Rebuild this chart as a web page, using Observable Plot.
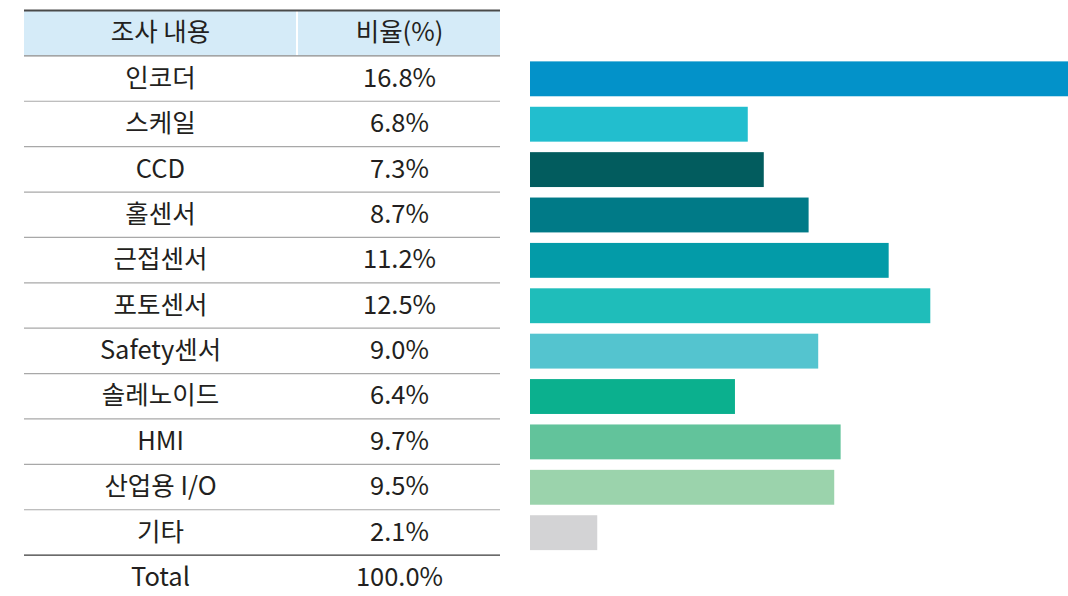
<!DOCTYPE html>
<html>
<head>
<meta charset="utf-8">
<script src="https://cdn.jsdelivr.net/npm/d3@7"></script>
<script src="https://cdn.jsdelivr.net/npm/@observablehq/plot@0.6"></script>
<style>
  html, body { margin: 0; padding: 0; background: #ffffff; }
  #chart { width: 1068px; height: 596px; }
</style>
</head>
<body>
<div id="chart"></div>
<script>
const headers = ["조사 내용", "비율(%)"];
const categories = ["인코더", "스케일", "CCD", "홀센서", "근접센서", "포토센서", "Safety센서", "솔레노이드", "HMI", "산업용 I/O", "기타"];
const shares = [16.8, 6.8, 7.3, 8.7, 11.2, 12.5, 9.0, 6.4, 9.7, 9.5, 2.1];
const shareLabels = ["16.8%", "6.8%", "7.3%", "8.7%", "11.2%", "12.5%", "9.0%", "6.4%", "9.7%", "9.5%", "2.1%"];
const totalLabel = "Total";
const totalValue = "100.0%";
const barColors = ["#0392c9", "#22bece", "#025c5e", "#007a87", "#039ba8", "#1fbdba", "#54c4cf", "#0bb08e", "#62c39b", "#9bd3ac", "#d3d3d5"];

const HEADER = "__header";
const rows = [HEADER, ...categories, totalLabel];
const W = 1068, H = 596;
const rowTop = 10, rowBottom = 600;
const rowH = (rowBottom - rowTop) / rows.length;
const tableLeft = 24, tableRight = 500, colSplit = 297;
const col1 = 160, col2 = 399;

const data = categories.map((c, i) => ({category: c, share: shares[i], label: shareLabels[i], color: barColors[i]}));
const font = "'Noto Sans CJK KR', 'Noto Sans', sans-serif";
const textStyle = {frameAnchor: "left", textAnchor: "middle", fontSize: 25.5, fontWeight: 400, fill: "#231f20"};

const chart = Plot.plot({
  width: W,
  height: H,
  margin: 0,
  style: {fontFamily: font, background: "#ffffff"},
  x: {domain: [0, 16.8], range: [530, 1068], axis: null},
  y: {domain: rows, range: [rowTop, rowBottom], padding: 0, round: false, axis: null},
  marks: [
    // header background cells
    Plot.cell([HEADER], {y: d => d, fill: "#d5ebf8", insetLeft: tableLeft, insetRight: W - colSplit + 1}),
    Plot.cell([HEADER], {y: d => d, fill: "#d5ebf8", insetLeft: colSplit + 1, insetRight: W - tableRight}),
    // top border
    Plot.ruleY([HEADER], {y: d => d, dy: -rowH / 2, stroke: "#4a4a4a", strokeWidth: 2, insetLeft: tableLeft, insetRight: W - tableRight}),
    // header bottom line
    Plot.ruleY([HEADER], {y: d => d, dy: rowH / 2, stroke: "#8a8a8a", strokeWidth: 1.2, insetLeft: tableLeft, insetRight: W - tableRight}),
    // row separators
    Plot.ruleY(categories.slice(0, -1), {y: d => d, dy: rowH / 2, stroke: "#a8a8a8", strokeWidth: 1.2, insetLeft: tableLeft, insetRight: W - tableRight}),
    // line above total
    Plot.ruleY(categories.slice(-1), {y: d => d, dy: rowH / 2, stroke: "#3a3a3a", strokeWidth: 1.3, insetLeft: tableLeft, insetRight: W - tableRight}),
    // header texts
    Plot.text([HEADER], {y: d => d, text: () => headers[0], dx: col1, ...textStyle}),
    Plot.text([HEADER], {y: d => d, text: () => headers[1], dx: col2, ...textStyle}),
    // body texts
    Plot.text(data, {y: "category", text: "category", dx: col1, ...textStyle}),
    Plot.text(data, {y: "category", text: "label", dx: col2, ...textStyle}),
    Plot.text([totalLabel], {y: d => d, text: d => d, dx: col1, ...textStyle}),
    Plot.text([totalLabel], {y: d => d, text: () => totalValue, dx: col2, ...textStyle}),
    // bars
    Plot.barX(data, {y: "category", x: "share", fill: "color", insetTop: 6, insetBottom: 4.5})
  ]
});
document.getElementById("chart").appendChild(chart);
</script>
</body>
</html>
